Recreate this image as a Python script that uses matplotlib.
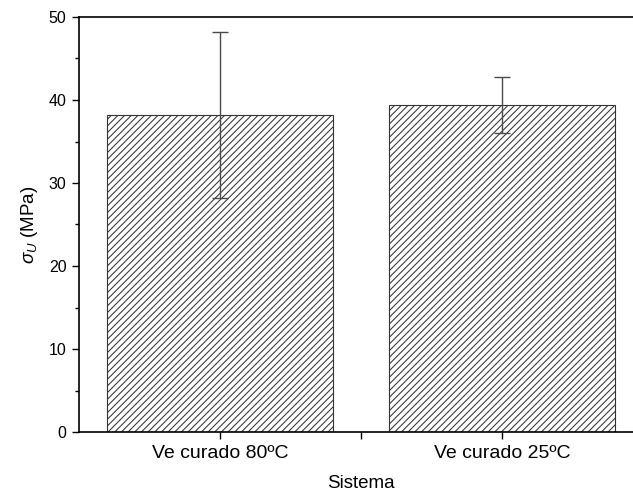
import matplotlib
matplotlib.use("Agg")
import matplotlib.pyplot as plt
from matplotlib.ticker import MultipleLocator, FixedLocator

# Data
categories = ["Ve curado 80ºC", "Ve curado 25ºC"]
sigma_u = [38.2, 39.4]
sigma_err = [9.95, 3.35]
y_ticks = [0, 10, 20, 30, 40, 50]

plt.rcParams["font.family"] = ["Liberation Sans", "DejaVu Sans"]
plt.rcParams["hatch.linewidth"] = 0.75
plt.rcParams["hatch.color"] = "#222222"
plt.rcParams["mathtext.fontset"] = "custom"
plt.rcParams["mathtext.it"] = "Liberation Sans:italic"
plt.rcParams["mathtext.rm"] = "Liberation Sans"

fig = plt.figure(figsize=(6.33, 5.01), dpi=100)
ax = fig.add_axes([79 / 633, 69 / 501, 564 / 633, 415 / 501])

x = list(range(len(categories)))
ax.bar(x, sigma_u, width=0.8, color="white", edgecolor="#333333",
       linewidth=0.8, hatch="/////", zorder=2)
ax.errorbar(x, sigma_u, yerr=sigma_err, fmt="none", ecolor="#4a4a4a",
            elinewidth=1.0, capsize=5.5, capthick=1.0, zorder=3)

ax.set_xlim(-0.5, 1.5)
ax.set_ylim(0, 50)
ax.set_xticks(x)
ax.set_xticklabels(categories, fontsize=14)
ax.xaxis.set_minor_locator(FixedLocator([0.5]))
ax.set_yticks(y_ticks)
ax.yaxis.set_minor_locator(MultipleLocator(5))
ax.tick_params(axis="y", which="major", direction="out", length=5, width=1,
               labelsize=11.5, pad=4)
ax.tick_params(axis="y", which="minor", direction="out", length=3, width=1)
ax.tick_params(axis="x", which="major", direction="out", length=5, width=1, pad=4)
ax.tick_params(axis="x", which="minor", direction="out", length=5, width=1)

for side in ("left", "bottom", "top"):
    ax.spines[side].set_linewidth(1.2)
    ax.spines[side].set_color("black")
ax.spines["right"].set_visible(False)

ax.set_xlabel("Sistema", fontsize=13.5, labelpad=10)
ax.set_ylabel(r"$\sigma_U$ (MPa)", fontsize=13.5, labelpad=6)

fig.savefig("out.png", dpi=100)
